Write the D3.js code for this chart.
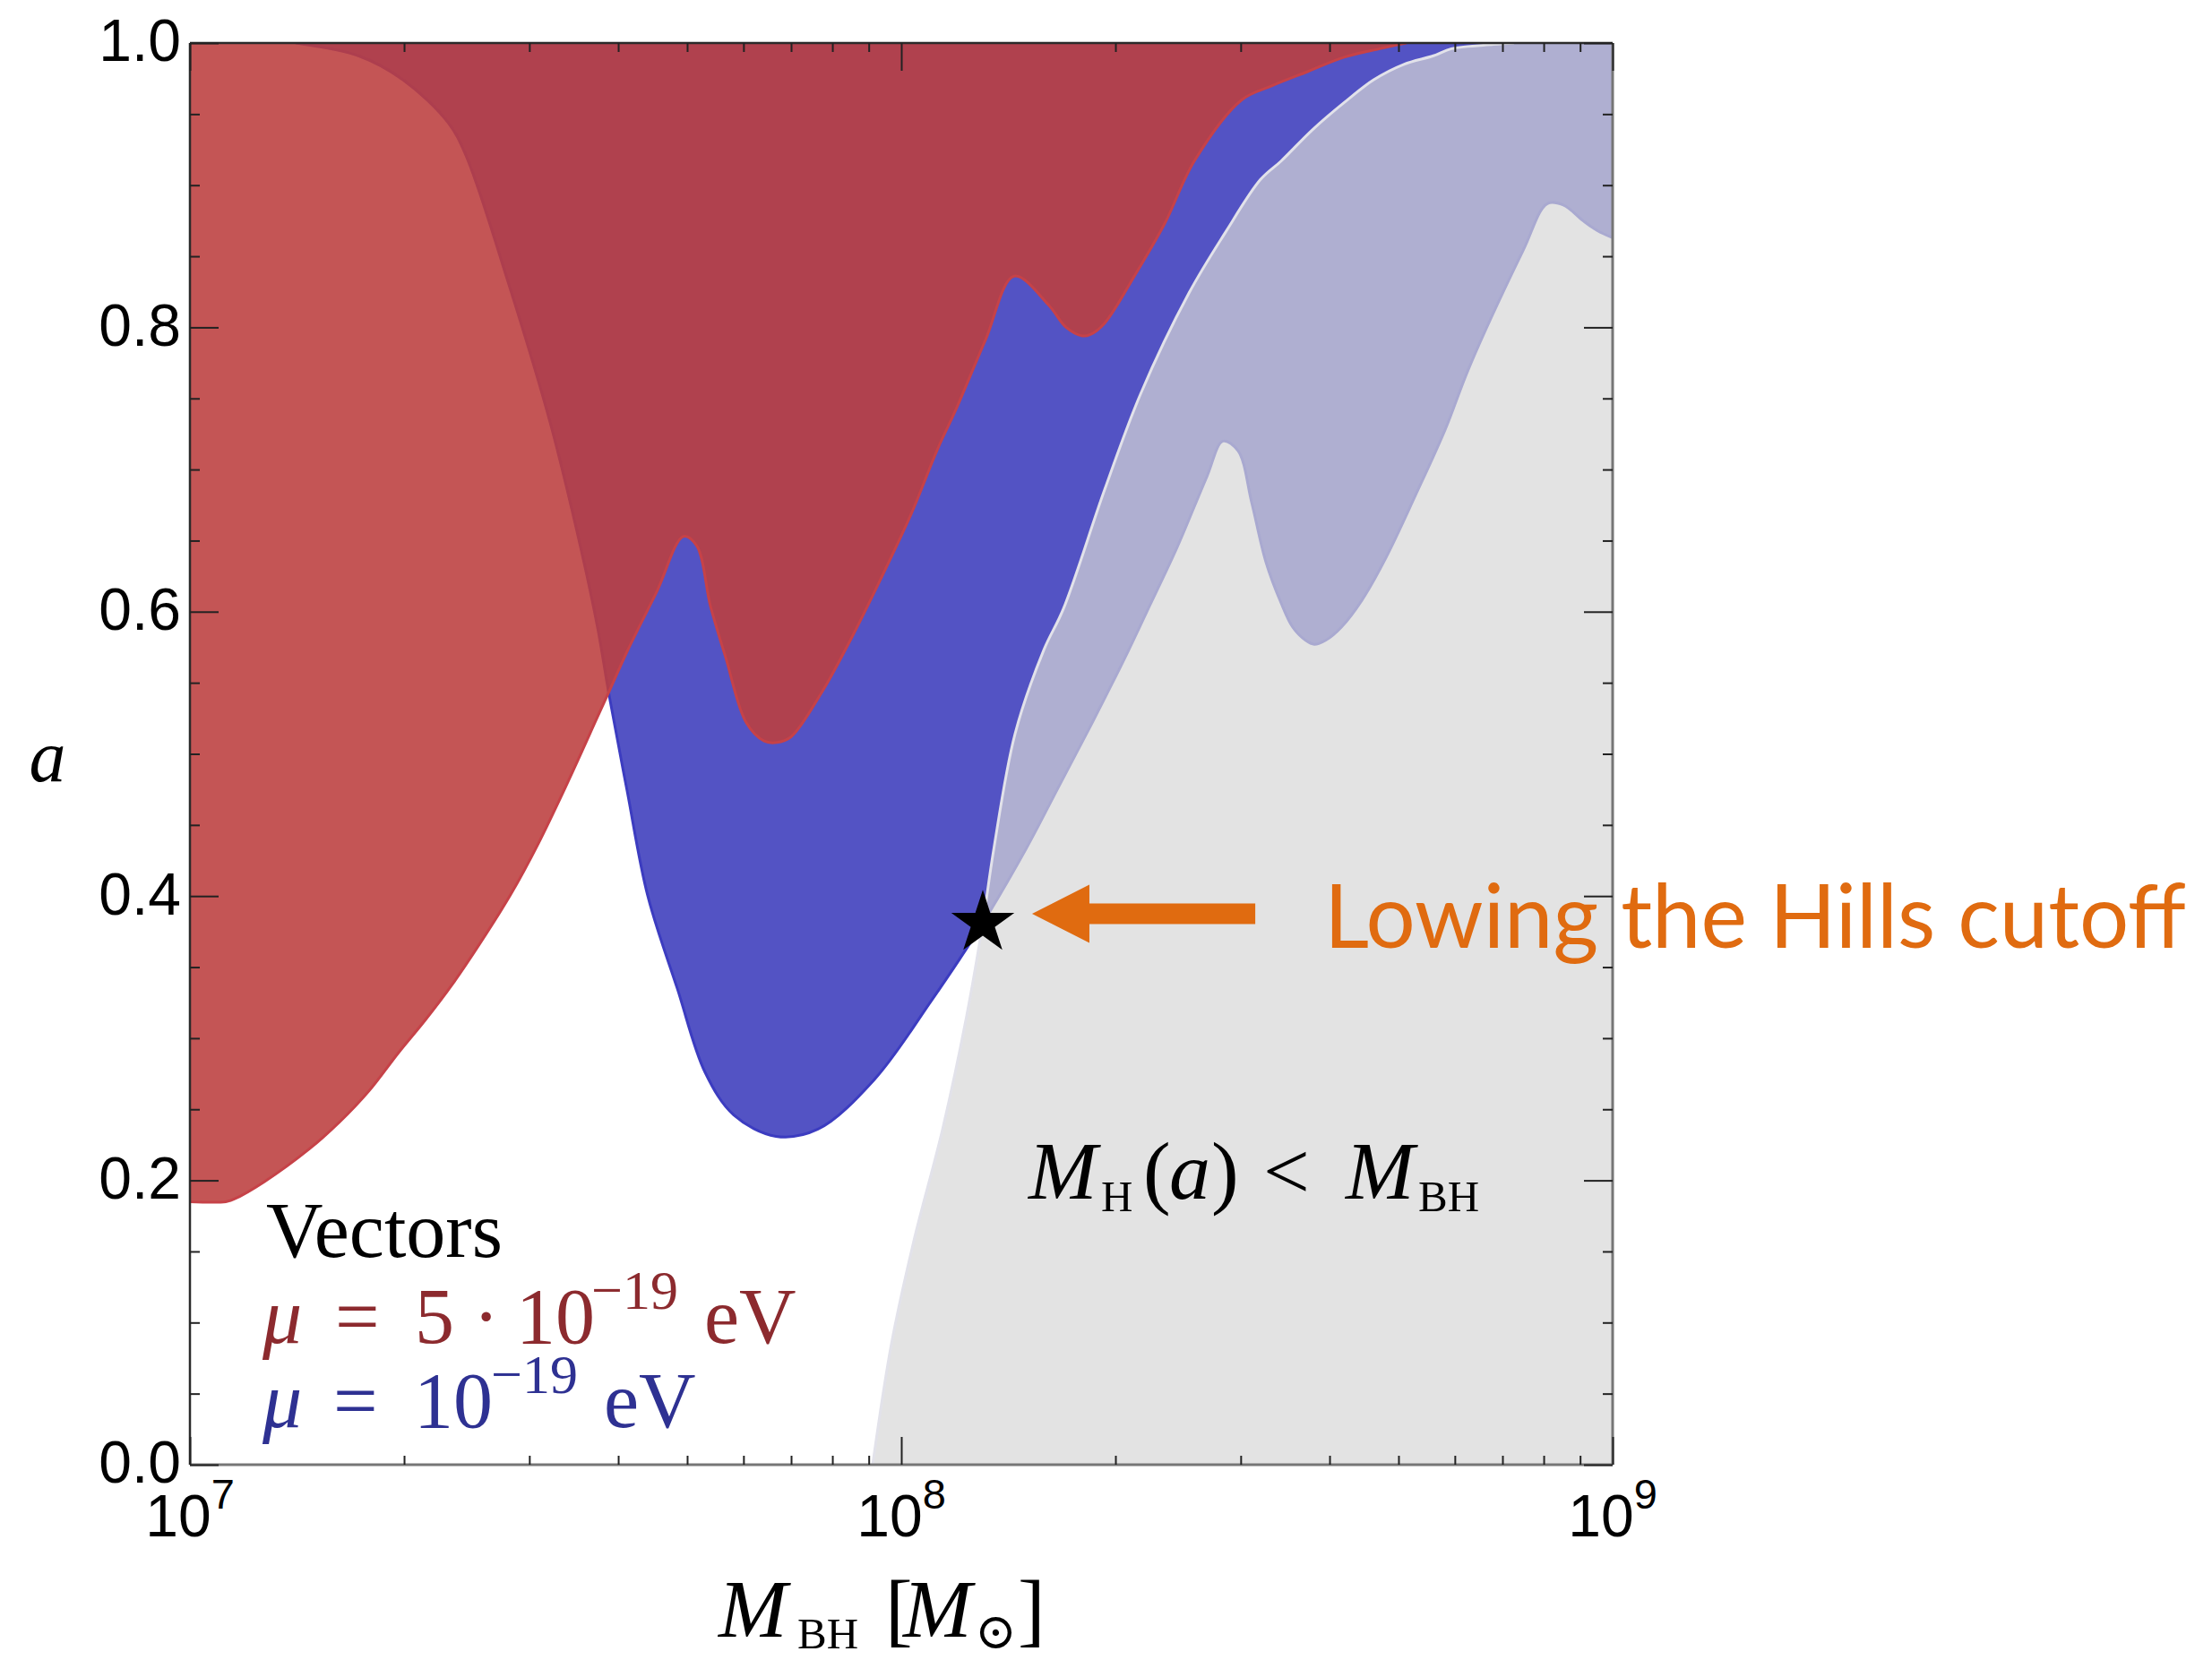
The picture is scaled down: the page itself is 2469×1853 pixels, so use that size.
<!DOCTYPE html>
<html>
<head>
<meta charset="utf-8">
<script src="https://cdn.jsdelivr.net/npm/d3@7"></script>
<style>
  html, body { margin: 0; padding: 0; background: #ffffff; }
  svg { display: block; }
</style>
</head>
<body>
<svg id="chart" width="2469" height="1853"></svg>
<script>
// Superradiance exclusion for vector fields: BH spin a versus BH mass (solar masses).

// Lower edge of the region excluded for mu = 5e-19 eV
const redMass = [1.000e7, 1.123e7, 1.156e7, 1.272e7, 1.471e7, 1.623e7, 1.786e7, 1.966e7, 2.144e7, 2.339e7,
                 2.552e7, 2.824e7, 3.082e7, 3.390e7, 3.741e7, 3.885e7, 4.117e7, 4.531e7, 4.943e7, 5.162e7,
                 5.391e7, 5.663e7, 6.053e7, 6.415e7, 6.682e7, 6.999e7, 7.725e7, 8.501e7, 9.355e7, 1.033e8,
                 1.126e8, 1.193e8, 1.313e8, 1.441e8, 1.609e8, 1.705e8, 1.797e8, 1.844e8, 1.932e8, 2.132e8,
                 2.346e8, 2.582e8, 3.010e8, 3.322e8, 3.731e8, 4.191e8, 4.705e8, 5.132e8];
const redSpin = [0.185, 0.185, 0.187, 0.199, 0.222, 0.241, 0.263, 0.290, 0.313, 0.338,
                 0.366, 0.401, 0.436, 0.479, 0.526, 0.544, 0.572, 0.614, 0.653, 0.646,
                 0.604, 0.568, 0.522, 0.509, 0.508, 0.512, 0.543, 0.581, 0.623, 0.669,
                 0.715, 0.742, 0.791, 0.836, 0.816, 0.800, 0.794, 0.795, 0.803, 0.837,
                 0.873, 0.917, 0.960, 0.970, 0.980, 0.990, 0.996, 1.000];

// Lower edge of the region excluded for mu = 1e-19 eV
const blueMass = [1.408e7, 1.725e7, 1.994e7, 2.306e7, 2.443e7, 2.800e7, 3.209e7, 3.561e7, 3.741e7, 3.885e7,
                  4.117e7, 4.402e7, 4.843e7, 5.299e7, 5.814e7, 6.664e7, 7.636e7, 9.168e7, 1.101e8, 1.302e8,
                  1.497e8, 1.661e8, 1.860e8, 2.083e8, 2.214e8, 2.436e8, 2.689e8, 2.833e8, 2.976e8, 3.108e8,
                  3.255e8, 3.420e8, 3.551e8, 3.698e8, 3.807e8, 3.954e8, 4.154e8, 4.441e8, 4.801e8, 5.284e8,
                  5.815e8, 6.288e8, 7.484e8, 8.093e8, 8.525e8, 9.087e8, 9.519e8, 1.000e9];
const blueSpin = [1.000, 0.991, 0.974, 0.944, 0.921, 0.832, 0.733, 0.640, 0.589, 0.541,
                  0.474, 0.400, 0.335, 0.276, 0.246, 0.231, 0.236, 0.271, 0.326, 0.381,
                  0.433, 0.476, 0.523, 0.572, 0.600, 0.644, 0.695, 0.720, 0.713, 0.677,
                  0.635, 0.606, 0.589, 0.580, 0.577, 0.580, 0.589, 0.608, 0.638, 0.682,
                  0.728, 0.772, 0.854, 0.887, 0.886, 0.875, 0.868, 0.863];

// Hills mass boundary: M_H(a) < M_BH to the right of this curve
const hillsMass = [9.115e7, 9.686e7, 1.041e8, 1.143e8, 1.236e8, 1.302e8, 1.348e8, 1.445e8, 1.586e8, 1.690e8,
                   1.932e8, 2.169e8, 2.537e8, 2.849e8, 3.199e8, 3.420e8, 3.785e8, 4.191e8, 4.610e8, 5.088e8,
                   5.599e8, 5.934e8, 6.800e8, 7.269e8];
const hillsSpin = [0.000, 0.085, 0.157, 0.236, 0.316, 0.381, 0.432, 0.514, 0.573, 0.602,
                   0.686, 0.753, 0.824, 0.866, 0.904, 0.917, 0.939, 0.958, 0.974, 0.985,
                   0.991, 0.996, 0.999, 1.000];

// Marked point where the mu = 1e-19 eV edge meets the Hills cutoff
const starMass = 1.302e8;
const starSpin = 0.381;
// Arrow pointing at it
const arrowTipMass = 1.527e8;
const arrowTailMass = 3.145e8;
const arrowSpin = 0.3875;

// Axis ticks
const spinMajorTicks = [0, 0.2, 0.4, 0.6, 0.8, 1.0];
const spinTickLabels = ["0.0", "0.2", "0.4", "0.6", "0.8", "1.0"];
const spinMinorTicks = [0.05, 0.1, 0.15, 0.25, 0.3, 0.35, 0.45, 0.5, 0.55, 0.65, 0.7, 0.75, 0.85, 0.9, 0.95];
const massMajorTicks = [1e7, 1e8, 1e9];
const massTickExponents = ["7", "8", "9"];
const massMinorTicks = [2e7, 3e7, 4e7, 5e7, 6e7, 7e7, 8e7, 9e7, 2e8, 3e8, 4e8, 5e8, 6e8, 7e8, 8e8, 9e8];

// ---------------------------------------------------------------------------
const plotLeft = 212, plotRight = 1800, plotTop = 48, plotBottom = 1635;

const x = d3.scaleLog().domain([1e7, 1e9]).range([plotLeft, plotRight]);
const y = d3.scaleLinear().domain([0, 1]).range([plotBottom, plotTop]);

const svg = d3.select("#chart");

svg.append("defs").append("clipPath").attr("id", "plotClip")
  .append("rect").attr("x", plotLeft).attr("y", plotTop)
  .attr("width", plotRight - plotLeft).attr("height", plotBottom - plotTop);

const plot = svg.append("g").attr("clip-path", "url(#plotClip)");

const edge = d3.line()
  .x(d => x(d[0]))
  .y(d => y(d[1]))
  .curve(d3.curveCatmullRom.alpha(0.5));

const redPts = d3.zip(redMass, redSpin);
const bluePts = d3.zip(blueMass, blueSpin);
const hillsPts = d3.zip(hillsMass, hillsSpin);

const pt = (m, a) => `${x(m)},${y(a)}`;

// mu = 1e-19 eV region (opaque blue)
plot.append("path")
  .attr("d", edge(bluePts) + `L${pt(1e9, 1)}Z`)
  .attr("fill", "#5353c4");
plot.append("path")
  .attr("d", edge(bluePts))
  .attr("fill", "none")
  .attr("stroke", "#3c3cc0")
  .attr("stroke-width", 3);

// mu = 5e-19 eV region (translucent red on top)
plot.append("path")
  .attr("d", edge(redPts) + `L${pt(1e7, 1)}Z`)
  .attr("fill", "rgb(188,62,62)")
  .attr("fill-opacity", 0.884);
plot.append("path")
  .attr("d", edge(redPts))
  .attr("fill", "none")
  .attr("stroke", "rgb(198,66,72)")
  .attr("stroke-width", 3);

// Hills-cutoff region (translucent grey veil)
plot.append("path")
  .attr("d", edge(hillsPts) + `L${pt(1e9, 1)}L${pt(1e9, 0)}Z`)
  .attr("fill", "rgb(215,215,215)")
  .attr("fill-opacity", 0.7);
plot.append("path")
  .attr("d", edge(hillsPts))
  .attr("fill", "none")
  .attr("stroke", "rgb(226,226,234)")
  .attr("stroke-width", 3);

// ---------------------------------------------------------------------------
// Frame
const frame = svg.append("g");
frame.append("line").attr("x1", plotLeft).attr("x2", plotLeft).attr("y1", plotTop).attr("y2", plotBottom)
  .attr("stroke", "#2b2b2b").attr("stroke-width", 2.5);
frame.append("line").attr("x1", plotLeft).attr("x2", plotRight).attr("y1", plotTop).attr("y2", plotTop)
  .attr("stroke", "#2b2b2b").attr("stroke-width", 2.5);
frame.append("line").attr("x1", plotLeft).attr("x2", plotRight).attr("y1", plotBottom).attr("y2", plotBottom)
  .attr("stroke", "#767676").attr("stroke-width", 3);
frame.append("line").attr("x1", plotRight).attr("x2", plotRight).attr("y1", plotTop).attr("y2", plotBottom)
  .attr("stroke", "#767676").attr("stroke-width", 3);

function styleTicks(g) {
  g.select(".domain").remove();
  g.selectAll(".tick line").attr("stroke", "#222").attr("stroke-width", 2);
}

const tickFont = "'Liberation Sans', Arial, Helvetica, sans-serif";

// Left spin axis with labels
svg.append("g").attr("transform", `translate(${plotLeft},0)`)
  .call(d3.axisLeft(y).tickValues(spinMajorTicks).tickSize(-32).tickPadding(10)
    .tickFormat((d, i) => spinTickLabels[i]))
  .call(styleTicks)
  .call(g => g.selectAll(".tick text")
    .attr("font-family", tickFont).attr("font-size", 66).attr("fill", "#000")
    .attr("dy", "0.3em"));
svg.append("g").attr("transform", `translate(${plotLeft},0)`)
  .call(d3.axisLeft(y).tickValues(spinMinorTicks).tickSize(-11).tickFormat(""))
  .call(styleTicks);

// Right spin axis (ticks only)
svg.append("g").attr("transform", `translate(${plotRight},0)`)
  .call(d3.axisRight(y).tickValues(spinMajorTicks).tickSize(-32).tickFormat(""))
  .call(styleTicks);
svg.append("g").attr("transform", `translate(${plotRight},0)`)
  .call(d3.axisRight(y).tickValues(spinMinorTicks).tickSize(-11).tickFormat(""))
  .call(styleTicks);

// Bottom and top mass axes (ticks)
svg.append("g").attr("transform", `translate(0,${plotBottom})`)
  .call(d3.axisBottom(x).tickValues(massMajorTicks).tickSize(-31).tickFormat(""))
  .call(styleTicks);
svg.append("g").attr("transform", `translate(0,${plotBottom})`)
  .call(d3.axisBottom(x).tickValues(massMinorTicks).tickSize(-10).tickFormat(""))
  .call(styleTicks);
svg.append("g").attr("transform", `translate(0,${plotTop})`)
  .call(d3.axisTop(x).tickValues(massMajorTicks).tickSize(-31).tickFormat(""))
  .call(styleTicks);
svg.append("g").attr("transform", `translate(0,${plotTop})`)
  .call(d3.axisTop(x).tickValues(massMinorTicks).tickSize(-10).tickFormat(""))
  .call(styleTicks);

// Mass tick labels: 10^n
const massLabels = svg.append("g").attr("font-family", tickFont).attr("fill", "#000");
massMajorTicks.forEach((m, i) => {
  const t = massLabels.append("text")
    .attr("x", x(m))
    .attr("y", 1715)
    .attr("text-anchor", "middle")
    .attr("font-size", 66);
  t.append("tspan").text("10");
  t.append("tspan").attr("font-size", 47).attr("dy", -31).text(massTickExponents[i]);
});

// ---------------------------------------------------------------------------
const serif = "'Liberation Serif', 'Times New Roman', serif";

// Axis titles
svg.append("text")
  .attr("x", 53).attr("y", 872)
  .attr("text-anchor", "middle")
  .attr("font-family", serif).attr("font-style", "italic").attr("font-size", 82)
  .text("a");

const xTitle = svg.append("text").attr("font-family", serif).attr("fill", "#000");
xTitle.append("tspan").attr("x", 802).attr("y", 1827).attr("font-size", 92).attr("font-style", "italic").text("M");
xTitle.append("tspan").attr("x", 890).attr("y", 1840).attr("font-size", 49).text("BH");
xTitle.append("tspan").attr("x", 988).attr("y", 1827).attr("font-size", 92).text("[");
xTitle.append("tspan").attr("x", 1008).attr("y", 1827).attr("font-size", 92).attr("font-style", "italic").text("M");
xTitle.append("tspan").attr("x", 1088).attr("y", 1840).attr("font-size", 56).attr("font-family", "'DejaVu Serif', serif").text("\u2299");
xTitle.append("tspan").attr("x", 1136).attr("y", 1827).attr("font-size", 92).text("]");

// Region label
const hillsLabel = svg.append("text").attr("font-family", serif).attr("fill", "#000");
hillsLabel.append("tspan").attr("x", 1148).attr("y", 1338).attr("font-size", 92).attr("font-style", "italic").text("M");
hillsLabel.append("tspan").attr("x", 1229).attr("y", 1352).attr("font-size", 49).text("H");
hillsLabel.append("tspan").attr("x", 1276).attr("y", 1338).attr("font-size", 92).text("(");
hillsLabel.append("tspan").attr("x", 1305).attr("y", 1338).attr("font-size", 92).attr("font-style", "italic").text("a");
hillsLabel.append("tspan").attr("x", 1352).attr("y", 1338).attr("font-size", 92).text(")");
hillsLabel.append("tspan").attr("x", 1410).attr("y", 1338).attr("font-size", 92).text("<");
hillsLabel.append("tspan").attr("x", 1502).attr("y", 1338).attr("font-size", 92).attr("font-style", "italic").text("M");
hillsLabel.append("tspan").attr("x", 1583).attr("y", 1352).attr("font-size", 49).text("BH");

// Legend
const legend = svg.append("g").attr("font-family", serif);
legend.append("text").attr("x", 297).attr("y", 1403).attr("font-size", 88).attr("fill", "#000").text("Vectors");

const redText = legend.append("text").attr("font-size", 88).attr("fill", "rgb(140,42,46)");
redText.append("tspan").attr("x", 293).attr("y", 1499).attr("font-style", "italic").text("\u03bc");
redText.append("tspan").attr("x", 374).attr("y", 1499).text("=");
redText.append("tspan").attr("x", 463).attr("y", 1499).text("5");
redText.append("tspan").attr("x", 528).attr("y", 1499).text("\u00b7");
redText.append("tspan").attr("x", 576).attr("y", 1499).text("10");
redText.append("tspan").attr("x", 660).attr("y", 1461).attr("font-size", 62).text("\u221219");
redText.append("tspan").attr("x", 786).attr("y", 1499).text("eV");

const blueText = legend.append("text").attr("font-size", 88).attr("fill", "rgb(46,49,146)");
blueText.append("tspan").attr("x", 293).attr("y", 1593).attr("font-style", "italic").text("\u03bc");
blueText.append("tspan").attr("x", 372).attr("y", 1593).text("=");
blueText.append("tspan").attr("x", 462).attr("y", 1593).text("10");
blueText.append("tspan").attr("x", 548).attr("y", 1555).attr("font-size", 62).text("\u221219");
blueText.append("tspan").attr("x", 674).attr("y", 1593).text("eV");

// Star marker
svg.append("path")
  .attr("d", d3.symbol().type(d3.symbolStar).size(1540)())
  .attr("transform", `translate(${x(starMass)},${y(starSpin)})`)
  .attr("fill", "#000");

// Arrow and annotation
const tipX = x(arrowTipMass), tailX = x(arrowTailMass), ay = y(arrowSpin);
const headLen = 64, headHalf = 32.5, shaftHalf = 11.5;
svg.append("path")
  .attr("d", `M${tipX},${ay}L${tipX + headLen},${ay - headHalf}L${tipX + headLen},${ay - shaftHalf}` +
             `L${tailX},${ay - shaftHalf}L${tailX},${ay + shaftHalf}L${tipX + headLen},${ay + shaftHalf}` +
             `L${tipX + headLen},${ay + headHalf}Z`)
  .attr("fill", "#e06b10");

svg.append("text")
  .attr("x", 1478).attr("y", 1058)
  .attr("font-family", "Lato, 'Open Sans', sans-serif")
  .attr("font-size", 98)
  .attr("fill", "#e06b10")
  .attr("textLength", 962)
  .attr("lengthAdjust", "spacingAndGlyphs")
  .text("Lowing the Hills cutoff");
</script>
</body>
</html>
